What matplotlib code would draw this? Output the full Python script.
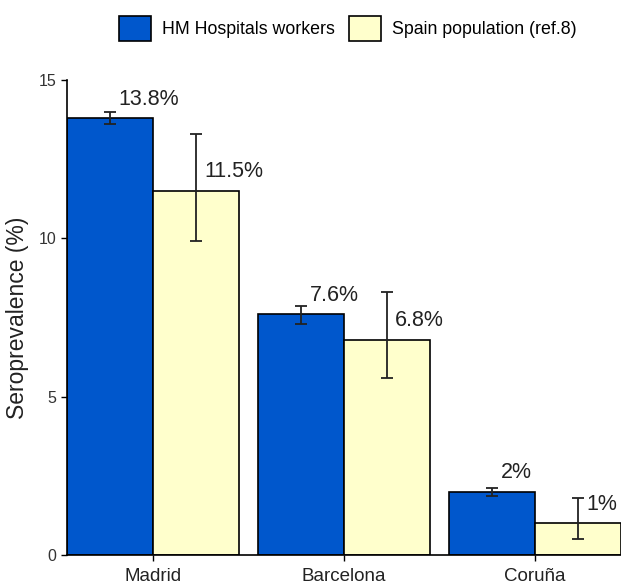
import matplotlib
matplotlib.use('Agg')
from matplotlib import pyplot as plt
from matplotlib.patches import Patch
import numpy as np

plt.rcParams['font.family'] = ['Liberation Sans', 'DejaVu Sans']

cities = ['Madrid', 'Barcelona', 'Coruña']
hm_workers = [13.8, 7.6, 2.0]
hm_low = [13.6, 7.3, 1.85]
hm_high = [14.0, 7.85, 2.12]
spain_pop = [11.5, 6.8, 1.0]
spain_low = [9.9, 5.6, 0.5]
spain_high = [13.3, 8.3, 1.8]
hm_labels = ['13.8%', '7.6%', '2%']
spain_labels = ['11.5%', '6.8%', '1%']

blue = '#0057cc'
yellow = '#ffffcc'
w = 0.45

fig = plt.figure(figsize=(6.21, 5.83), dpi=100)
ax = fig.add_axes([0.108, 0.048, 0.892, 0.815])

x = np.arange(len(cities))
ax.bar(x - w / 2, hm_workers, w, color=blue, edgecolor='black', linewidth=1.2)
ax.bar(x + w / 2, spain_pop, w, color=yellow, edgecolor='black', linewidth=1.2)

hm_err = [np.array(hm_workers) - np.array(hm_low), np.array(hm_high) - np.array(hm_workers)]
sp_err = [np.array(spain_pop) - np.array(spain_low), np.array(spain_high) - np.array(spain_pop)]
ax.errorbar(x - w / 2, hm_workers, yerr=hm_err, fmt='none', ecolor='#222222', elinewidth=1.3, capsize=4, capthick=1.3)
ax.errorbar(x + w / 2, spain_pop, yerr=sp_err, fmt='none', ecolor='#222222', elinewidth=1.3, capsize=4, capthick=1.3)

for i in range(len(cities)):
    ax.annotate(hm_labels[i], (x[i] - w / 2, hm_workers[i]), xytext=(6, 6), textcoords='offset points',
                ha='left', va='bottom', fontsize=15.5, color='#222222', annotation_clip=False)
    ax.annotate(spain_labels[i], (x[i] + w / 2, spain_pop[i]), xytext=(6, 6), textcoords='offset points',
                ha='left', va='bottom', fontsize=15.5, color='#222222', annotation_clip=False)

ax.set_xlim(-0.45, 2.45)
ax.set_ylim(0, 15)
ax.set_xticks(x)
ax.set_xticklabels(cities, fontsize=13.5, color='#222222')
ax.set_yticks([0, 5, 10, 15])
ax.tick_params(axis='y', labelsize=11.5, labelcolor='#333333', length=4, width=1)
ax.tick_params(axis='x', length=4, width=1, pad=5)
ax.spines['top'].set_visible(False)
ax.spines['right'].set_visible(False)
ax.spines['left'].set_linewidth(1.2)
ax.spines['bottom'].set_linewidth(1.2)
ax.set_ylabel('Seroprevalence (%)', fontsize=16.5, color='#222222', labelpad=7)

handles = [Patch(facecolor=blue, edgecolor='black', linewidth=1.2, label='HM Hospitals workers'),
           Patch(facecolor=yellow, edgecolor='black', linewidth=1.2, label='Spain population (ref.8)')]
fig.legend(handles=handles, loc='upper center', bbox_to_anchor=(0.56, 1.0), ncol=2, frameon=False,
           fontsize=12.8, handlelength=1.8, handleheight=1.8, columnspacing=0.8, handletextpad=0.6)

fig.savefig('out.png', dpi=100)
